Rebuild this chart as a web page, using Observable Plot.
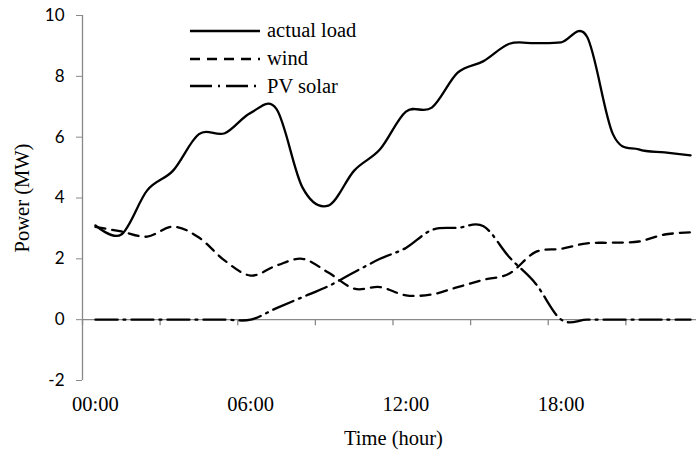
<!DOCTYPE html>
<html><head><meta charset="utf-8">
<script src="https://cdn.jsdelivr.net/npm/d3@7"></script>
<script src="https://cdn.jsdelivr.net/npm/@observablehq/plot@0.6"></script>
<style>
body{margin:0;background:#fff;}
#wrap{position:relative;width:696px;height:457px;}
#legend{position:absolute;left:190px;top:17px;font-family:"Liberation Serif","Times New Roman",serif;font-size:20.5px;color:#000;}
.row{display:flex;align-items:center;height:27.7px;white-space:nowrap;}
.row svg{width:70px;height:10px;margin-right:7px;}
</style></head><body><div id="wrap"><div id="legend"></div></div>
<script>
// hourly data
const hours = [0,1,2,3,4,5,6,7,8,9,10,11,12,13,14,15,16,17,18,19,20,21,22,23];
const load  = [3.1,2.8,4.25,4.9,6.1,6.13,6.8,6.92,4.35,3.75,4.9,5.6,6.84,6.97,8.12,8.5,9.07,9.09,9.12,9.3,6.1,5.6,5.5,5.4];
const wind  = [3.05,2.9,2.73,3.06,2.7,1.94,1.45,1.78,2.0,1.55,1.02,1.07,0.8,0.83,1.07,1.31,1.52,2.22,2.33,2.51,2.53,2.57,2.8,2.87];
const pv    = [0,0,0,0,0,0,0,0.38,0.74,1.1,1.56,2.0,2.36,2.95,3.02,3.07,2.05,1.2,0,0,0,0,0,0];
const seriesNames = ["actual load","wind","PV solar"];
const xTickValues = [0,6,12,18];
const xTickLabels = ["00:00","06:00","12:00","18:00"];
const xTickMarks = [-0.5,2.5,5.5,8.5,11.5,14.5,17.5,20.5];
const yTicks = [-2,0,2,4,6,8,10];

const dashes = [null, "10,7", "22,6,2,6"];
const values = [load, wind, pv];
const rows = seriesNames.flatMap((s, k) => hours.map((h, i) => ({series: s, hour: h, value: values[k][i]})));

const axisGray = "#898989";
const serif = "'Liberation Serif','Times New Roman',serif";
const tickDepth = -0.2; // short downward tick below the zero line

const lineMarks = seriesNames.map((s, k) => Plot.line(rows.filter(d => d.series === s), {
  x: "hour", y: "value", stroke: "black", strokeWidth: 2.3,
  strokeDasharray: dashes[k] || undefined, curve: "cardinal", tension: 0
}));

const chart = Plot.plot({
  width: 696, height: 457,
  marginLeft: 82, marginRight: 0, marginTop: 15, marginBottom: 77,
  style: {background: "white"},
  x: {domain: [-0.5, 23.23]},
  y: {domain: [-2, 10]},
  marks: [
    Plot.ruleY([0], {stroke: axisGray, strokeWidth: 1.3}),
    Plot.ruleX(xTickMarks, {x: d => d, y1: 0, y2: tickDepth, stroke: axisGray, strokeWidth: 1.3}),
    Plot.ruleX([-0.5], {y1: -2, y2: 10, stroke: axisGray, strokeWidth: 1.3}),
    Plot.axisY({ticks: yTicks, tickFormat: d => String(d), tickSize: 6, tickPadding: 12, stroke: axisGray, fill: "black", fontSize: 17, fontFamily: "Lato", label: null}),
    Plot.axisX({ticks: xTickValues, tickFormat: d => xTickLabels[xTickValues.indexOf(d)], tickSize: 0, tickPadding: 16, fill: "black", fontSize: 20.5, fontFamily: serif, label: null}),
    ...lineMarks,
    Plot.text(["Time (hour)"], {text: d => d, frameAnchor: "bottom", lineAnchor: "middle", textAnchor: "middle", dy: 58, dx: 4, fontSize: 20.5, fontFamily: serif, fill: "black"}),
    Plot.text(["Power (MW)"], {text: d => d, frameAnchor: "left", textAnchor: "middle", lineAnchor: "middle", rotate: -90, dx: -60, fontSize: 20.5, fontFamily: serif, fill: "black"})
  ]
});
document.getElementById("wrap").prepend(chart);

// legend
const legend = document.getElementById("legend");
seriesNames.forEach((s, k) => {
  const row = document.createElement("div");
  row.className = "row";
  row.innerHTML = `<svg viewBox="0 0 70 10"><line x1="0" y1="5" x2="70" y2="5" stroke="black" stroke-width="2.3" ${dashes[k] ? `stroke-dasharray="${dashes[k]}"` : ""}/></svg><span>${s}</span>`;
  legend.appendChild(row);
});
</script>
</body></html>
